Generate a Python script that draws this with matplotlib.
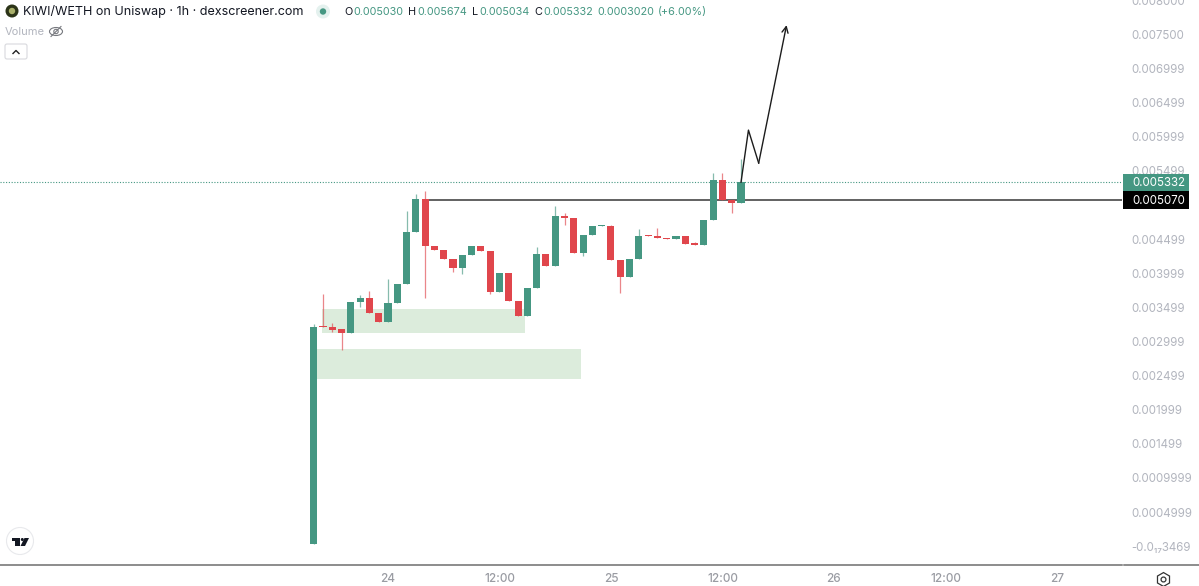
import matplotlib
matplotlib.use("Agg")
import matplotlib.pyplot as plt
from matplotlib.patches import Circle, Ellipse, FancyBboxPatch, Polygon, Rectangle

plt.rcParams['font.family'] = ['Inter', 'DejaVu Sans']

# hours relative to the 24th 00:00
hours = list(range(-8, 39))
opens = [30, 3224, 3209, 3175, 3117, 3571, 3634, 3410, 3283, 3556, 3834, 4601, 5079, 4400, 4342, 4200,
         4073, 4264, 4396, 4322, 3722, 3995, 3590, 3375, 3781, 4284, 4103, 4840, 4806, 4293, 4557, 4694,
         4694, 4186, 3942, 4210, 4557, 4542, 4513, 4493, 4547, 4435, 4415, 4772, 5357, 5069, 5030]
highs = [3253, 3693, 3263, 3175, 3571, 3683, 3742, 3410, 3917, 3839, 4913, 5152, 5196, 4400, 4342, 4200,
         4264, 4396, 4396, 4322, 3995, 3995, 3590, 3781, 4386, 4284, 4986, 4884, 4806, 4557, 4694, 4698,
         4704, 4186, 4210, 4640, 4557, 4655, 4513, 4547, 4547, 4459, 4772, 5460, 5470, 5069, 5674]
lows = [30, 3205, 3136, 2873, 3117, 3507, 3410, 3283, 3283, 3556, 3834, 4601, 3629, 4342, 4200, 4015,
        3986, 4264, 4322, 3698, 3722, 3595, 3375, 3375, 3781, 4103, 4103, 4708, 4293, 4254, 4557, 4694,
        4186, 3703, 3942, 4210, 4547, 4513, 4493, 4493, 4430, 4415, 4415, 4772, 5069, 4884, 5025]
closes = [3214, 3205, 3170, 3117, 3571, 3634, 3410, 3283, 3561, 3839, 4601, 5079, 4400, 4342, 4200, 4073,
          4264, 4396, 4322, 3722, 3995, 3595, 3375, 3781, 4283, 4103, 4840, 4806, 4293, 4557, 4694, 4698,
          4186, 3942, 4210, 4547, 4547, 4513, 4493, 4547, 4430, 4415, 4772, 5357, 5069, 5025, 5332]

price_ticks = [0.0, 0.0004999, 0.0009999, 0.001499, 0.001999, 0.002499, 0.002999, 0.003499, 0.003999,
               0.004499, 0.005499, 0.005999, 0.006499, 0.006999, 0.0075, 0.008]
price_labels = ['-0.0₁₇3469', '0.0004999', '0.0009999', '0.001499', '0.001999', '0.002499', '0.002999',
                '0.003499', '0.003999', '0.004499', '0.005499', '0.005999', '0.006499', '0.006999',
                '0.007500', '0.008000']
time_ticks = [0, 12, 24, 36, 48, 60, 72]
time_labels = ['24', '12:00', '25', '12:00', '26', '12:00', '27']

last_price = 0.005332
level_price = 0.005070
level_start = 4

# hand drawn zones and arrow
zone_hours = [(-7.1, 14.7), (-7.6, 20.75)]
zone_prices = [(0.003121, 0.003473), (0.002448, 0.002887)]
arrow_hours = [38, 38.8, 39.9, 42.9]
arrow_prices = [0.005332, 0.006094, 0.005611, 0.007632]

ohlc_names = ['O', 'H', 'L', 'C']
ohlc_values = ['0.005030', '0.005674', '0.005034', '0.005332']

GREEN = '#459782'
RED = '#e0464c'
GREY = '#b2b5be'
W, H = 1199, 586

fig = plt.figure(figsize=(W / 100, H / 100), dpi=100, facecolor='white')
ax = fig.add_axes([0, 21 / H, 1122 / W, 565 / H])
ax.set_xlim(-388 / 9.29, (1122 - 388) / 9.29)
ax.set_ylim(-0.000276, 0.007998)

for (x0, x1), (y0, y1) in zip(zone_hours, zone_prices):
    ax.add_patch(Rectangle((x0, y0), x1 - x0, y1 - y0, color='#dcecdc', lw=0, zorder=1))

ax.axhline(last_price, color=GREEN, lw=0.8, ls=(0, (1, 1.5)), zorder=2)
ax.plot([level_start, 79], [level_price, level_price], color='#555555', lw=1.3, zorder=2)

for h, o, hi, lo, c in zip(hours, opens, highs, lows, closes):
    col = GREEN if c >= o else RED
    ax.vlines(h, lo * 1e-6, hi * 1e-6, color=col, lw=0.9, alpha=0.65, zorder=3)
    ax.bar(h, max(abs(c - o), 12) * 1e-6, bottom=min(o, c) * 1e-6, width=0.76, color=col, lw=0, zorder=4)

ax.plot(arrow_hours[:-1], arrow_prices[:-1], color='#1c1c1c', lw=1.0, zorder=5)
ax.annotate('', xy=(arrow_hours[-1], arrow_prices[-1]), xytext=(arrow_hours[-2], arrow_prices[-2]),
            arrowprops=dict(arrowstyle='->', color='#1c1c1c', lw=1.0, shrinkA=0, shrinkB=0,
                            mutation_scale=11), zorder=5)

ax.yaxis.tick_right()
ax.set_yticks(price_ticks, price_labels, fontsize=8.3, color=GREY)
ax.set_xticks(time_ticks, time_labels, fontsize=8.5, color='#9a9ca3', fontweight='medium')
ax.tick_params(axis='both', length=0)
ax.tick_params(axis='y', pad=7)
ax.tick_params(axis='x', pad=6)
for side in ['top', 'left', 'right', 'bottom']:
    ax.spines[side].set_visible(False)

# everything around the chart, in picture pixels
ui = fig.add_axes([0, 0, 1, 1], zorder=10)
ui.set_xlim(0, W)
ui.set_ylim(H, 0)
ui.axis('off')
ui.patch.set_alpha(0)

ui.plot([0, 1122], [565, 565], color='#6e6e6e', lw=1.1)
ui.plot([1124, W], [565, 565], color='#6e6e6e', lw=1.1)

ui.add_patch(Rectangle((1123, 174), 66, 17, color=GREEN, lw=0))
ui.add_patch(Rectangle((1123, 191), 66, 18, color='black', lw=0))
ui.text(1132, 182.5, f'{last_price:.6f}', color='white', fontsize=8.3, va='center')
ui.text(1132, 200.5, f'{level_price:.6f}', color='white', fontsize=8.3, va='center')

# header
ui.add_patch(Circle((12, 11), 6.5, color='#2c3418', lw=0))
ui.add_patch(Circle((12, 11), 3.2, color='#a9b06a', lw=0))
ui.text(23, 11.5, 'KIWI/WETH on Uniswap · 1h · dexscreener.com', fontsize=9.05, color='#131722', va='center')
ui.add_patch(Circle((323, 11.5), 7, color='#e4f1ee', lw=0))
ui.add_patch(Circle((323, 11.5), 3.2, color=GREEN, lw=0))
for x, vx, name, value in zip([344, 408, 472, 534], [353, 417, 479, 543], ohlc_names, ohlc_values):
    ui.text(x, 12, name, fontsize=7.8, color='#131722', va='center')
    ui.text(vx, 12, value, fontsize=7.8, color=GREEN, va='center')
ui.text(597, 12, '0.0003020', fontsize=7.8, color=GREEN, va='center')
ui.text(658, 12, '(+6.00%)', fontsize=7.8, color=GREEN, va='center')

ui.text(5, 32, 'Volume', fontsize=8, color=GREY, va='center')
ui.add_patch(Ellipse((56, 31.5), 13, 8, fc='none', ec='#77797f', lw=0.8))
ui.add_patch(Circle((56, 31.5), 2.2, fc='none', ec='#77797f', lw=0.8))
ui.plot([51, 61], [36.5, 26.5], color='#77797f', lw=0.8)
ui.add_patch(FancyBboxPatch((5, 44), 22, 15, boxstyle='round,pad=0,rounding_size=2', fc='white',
                            ec='#d8d9dd', lw=0.8))
ui.plot([13, 16, 19], [53.5, 50.5, 53.5], color='#222222', lw=1)

# tradingview badge and settings icon
ui.add_patch(Circle((20, 541), 13.5, fc='white', ec='#e8e9ec', lw=0.8))
ui.add_patch(Rectangle((12, 538), 8, 3, color='#131722', lw=0))
ui.add_patch(Rectangle((15, 541), 4.5, 5, color='#131722', lw=0))
ui.add_patch(Circle((22.3, 539.5), 1.5, color='#131722', lw=0))
ui.add_patch(Polygon([(24.5, 538), (29, 538), (25, 546), (20.5, 546)], color='#131722', lw=0))
ui.plot([1163], [578.5], marker='h', ms=10, mfc='none', mec='#333333', mew=0.9)
ui.plot([1163], [578.5], marker='o', ms=3.5, mfc='none', mec='#333333', mew=0.9)

fig.savefig('out.png', dpi=100, facecolor='white')
